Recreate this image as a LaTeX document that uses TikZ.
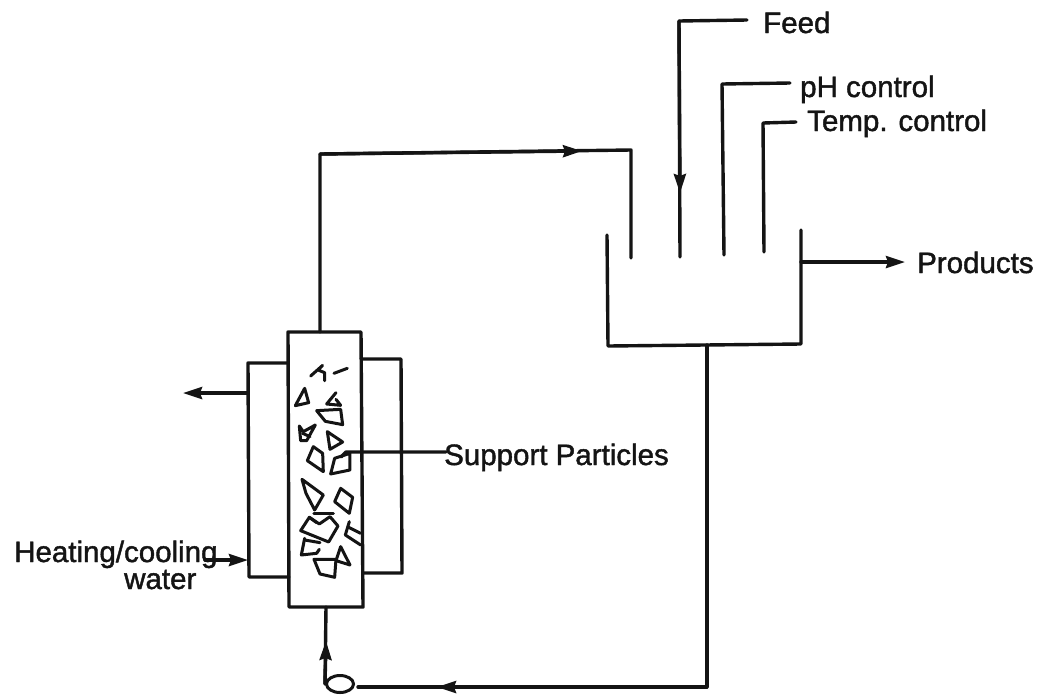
\documentclass[tikz,border=0pt]{standalone}
\usepackage{fontspec}
\newfontfamily\labfont[FakeBold=1.4]{Liberation Sans}
\usetikzlibrary{arrows.meta,shapes.geometric}
\tikzset{
  pipe/.style={draw=black!92,line width=3.4pt,line join=round,line cap=round},
  flowtip/.style={pipe,-{Stealth[length=19pt,width=12pt,inset=2pt]}},
  lab/.style={font=\labfont\fontsize{29.5}{30}\selectfont,anchor=base west,inner sep=0pt,text=black!92}
}
\begin{document}
\begin{tikzpicture}[x=1pt,y=-1pt]
\useasboundingbox[fill=white] (0,0) rectangle (1038,694);
% labels
\node[lab] (feed) at (763,33) {Feed};
\node[lab] (ph) at (800,97) {pH control};
\node[lab] (temp) at (807,131) {Temp. control};
\node[lab] (products) at (917,273) {Products};
\node[lab] (support) at (444,465) {Support Particles};
\node[lab] (heating) at (14,562) {Heating/cooling};
\node[lab] (water) at (124,589) {water};
% named points
\coordinate (colTL) at (288,332); \coordinate (colTR) at (361,332);
\coordinate (colBL) at (289,607); \coordinate (colBR) at (363,607);
\coordinate (colTop) at (320,332);
\coordinate (colBot) at (326,607);
\coordinate (ljTL) at (248,363); \coordinate (ljTR) at (288,363);
\coordinate (ljBL) at (249,577); \coordinate (ljBR) at (289,577);
\coordinate (rjTL) at (361,359); \coordinate (rjTR) at (401,359);
\coordinate (rjBL) at (363,573); \coordinate (rjBR) at (402,573);
\coordinate (tankTL) at (607,235); \coordinate (tankBL) at (608,346);
\coordinate (tankBR) at (801,344); \coordinate (tankTR) at (801,230);
\coordinate (tankOut) at (801,262);
\coordinate (tankBot) at (707,345);
\coordinate (recEnd) at (631,258); \coordinate (recCorner) at (631,150);
\coordinate (recLeft) at (320,154);
\coordinate (recMid) at (582,151);
\coordinate (feedEnd) at (747,20); \coordinate (feedC1) at (679,21); \coordinate (feedMid) at (680,193); \coordinate (feedIn) at (680,257);
\coordinate (phEnd) at (790,83); \coordinate (phC) at (722,84); \coordinate (phIn) at (724,255);
\coordinate (tEnd) at (796,122); \coordinate (tC) at (763,123); \coordinate (tIn) at (764,252);
\coordinate (prodTip) at (905,262);
\coordinate (outTip) at (183,393); \coordinate (outSt) at (248,393);
\coordinate (inSt) at (205,560); \coordinate (inTip) at (248,560);
\coordinate (retC) at (707,687); \coordinate (retMid) at (437,687); \coordinate (retEnd) at (358,687);
\node[draw=black!92,line width=3pt,ellipse,minimum width=27pt,minimum height=17pt,inner sep=0pt] (pump) at (340,684) {};
\coordinate (pumpTip) at (326,641);
\coordinate (supS) at (341,457); \coordinate (supB) at (346,452); \coordinate (supE) at (446,452);
% column and jackets
\draw[pipe] (colTL) -- (colTR) -- (colBR) -- (colBL) -- cycle;
\draw[pipe] (ljTR) -- (ljTL) -- (ljBL) -- (ljBR);
\draw[pipe] (rjTL) -- (rjTR) -- (rjBR) -- (rjBL);
% tank
\draw[pipe] (tankTL) -- (tankBL) -- (tankBR) -- (tankTR);
% recycle line
\draw[pipe] (colTop) -- (recLeft) -- (recCorner) -- (recEnd);
\draw[flowtip] (recLeft) -- (recMid);
% inlets
\draw[pipe] (feedEnd) -- (feedC1) -- (feedIn);
\draw[flowtip] (feedC1) -- (feedMid);
\draw[pipe] (phEnd) -- (phC) -- (phIn);
\draw[pipe] (tEnd) -- (tC) -- (tIn);
% outlets
\draw[flowtip] (tankOut) -- (prodTip);
\draw[flowtip] (outSt) -- (outTip);
\draw[flowtip] (inSt) -- (inTip);
% return
\draw[pipe] (tankBot) -- (retC) -- (retEnd);
\draw[flowtip] (retC) -- (retMid);
\draw[pipe] (pump.west) -- (colBot);
\draw[flowtip] (pump.west) -- (pumpTip);
% support line
\draw[pipe] (supS) -- (supB) -- (supE);
% particles (drawn in a 3x frame of the region)
\begin{scope}[shift={(170,320)},x=0.3333pt,y=-0.3333pt,pipe,line width=3pt]
\draw (422,168) -- (458,136) -- (444,150) -- (464,158) -- (464,182);
\draw (492,160) -- (532,145);
\draw (404,205) -- (376,257) -- (416,248) -- cycle;
\draw (498,218) -- (470,252) -- (512,256) -- (498,238);
\draw (440,272) -- (512,268) -- (518,314) -- (466,304) -- cycle;
\draw (388,318) -- (392,362) -- (410,362) -- (436,315) -- (400,335) -- cycle;
\draw (398,340) -- (420,350);
\draw (472,335) -- (518,366) -- (480,388) -- cycle;
\draw (430,380) -- (412,422) -- (460,455) -- (458,400) -- cycle;
\draw (482,462) -- (494,415) -- (540,400) -- (540,450) -- cycle;
\draw (396,478) -- (408,520) -- (434,570) -- (460,525) -- cycle;
\draw (512,505) -- (548,532) -- (538,580) -- (494,545) -- cycle;
\draw (392,632) -- (418,592) -- (448,612) -- (480,590) -- (504,618) -- (476,666) -- cycle;
\draw (432,582) -- (490,582);
\draw (418,592) -- (440,608);
\draw (538,605) -- (526,645) -- (572,675);
\draw (536,622) -- (572,640);
\draw (404,655) -- (394,705) -- (440,700) -- (448,688);
\draw (404,660) -- (450,668);
\draw (512,680) -- (498,722) -- (540,735) -- cycle;
\draw (432,718) -- (450,762) -- (494,772) -- (498,718) -- cycle;
\end{scope}
\end{tikzpicture}
\end{document}
